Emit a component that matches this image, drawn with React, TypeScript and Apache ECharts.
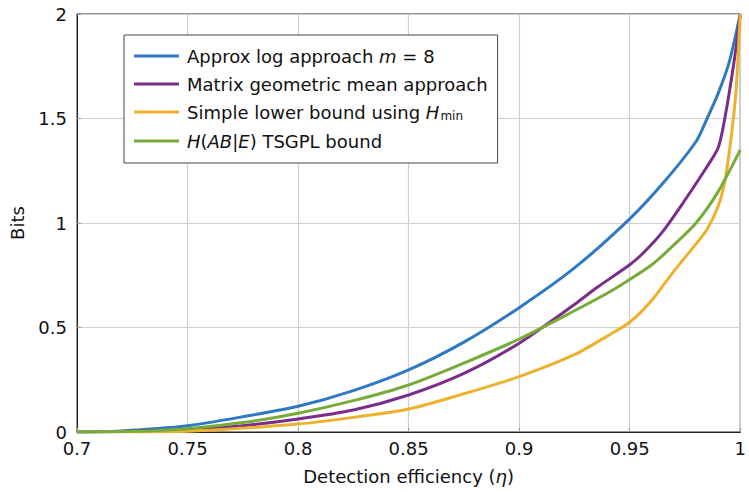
import React, { useEffect, useRef } from "react";
import * as echarts from "echarts";

const FONT = "DejaVu Sans";

const xTicks = [0.7, 0.75, 0.8, 0.85, 0.9, 0.95, 1];
const yTicks = [0, 0.5, 1, 1.5, 2];

const seriesNames = [
  "Approx log approach m = 8",
  "Matrix geometric mean approach",
  "Simple lower bound using Hmin",
  "H(AB|E) TSGPL bound",
];
const seriesColors = ["#2f78c3", "#7b2d8c", "#ecb22e", "#77ab3a"];

const etaBlue = [0.7, 0.72, 0.75, 0.775, 0.8, 0.825, 0.85, 0.875, 0.9, 0.925, 0.95, 0.965, 0.98, 0.985, 0.99, 0.995, 1.0];
const bitsBlue = [0, 0.005, 0.03, 0.073, 0.123, 0.198, 0.297, 0.43, 0.595, 0.785, 1.02, 1.19, 1.39, 1.5, 1.62, 1.77, 2.0];

const etaPurple = [0.7, 0.75, 0.775, 0.8, 0.825, 0.85, 0.875, 0.9, 0.925, 0.935, 0.95, 0.956, 0.965, 0.975, 0.985, 0.99, 0.993, 0.9973, 1.0];
const bitsPurple = [0, 0.01, 0.03, 0.062, 0.105, 0.177, 0.28, 0.425, 0.61, 0.69, 0.8, 0.855, 0.96, 1.11, 1.27, 1.36, 1.5, 1.78, 2.0];

const etaYellow = [0.7, 0.75, 0.8, 0.825, 0.85, 0.875, 0.9, 0.925, 0.94, 0.95, 0.96, 0.97, 0.98, 0.985, 0.99, 0.993, 0.996, 0.998, 0.999, 1.0];
const bitsYellow = [0, 0.004, 0.038, 0.07, 0.11, 0.183, 0.265, 0.37, 0.46, 0.525, 0.63, 0.77, 0.9, 0.97, 1.08, 1.2, 1.42, 1.62, 1.8, 2.0];

const etaGreen = [0.7, 0.725, 0.75, 0.775, 0.8, 0.825, 0.85, 0.875, 0.9, 0.925, 0.94, 0.95, 0.96, 0.97, 0.98, 0.99, 1.0];
const bitsGreen = [0, 0.003, 0.016, 0.045, 0.09, 0.15, 0.225, 0.33, 0.445, 0.58, 0.665, 0.73, 0.8, 0.895, 1.0, 1.15, 1.35];

const allEta = [etaBlue, etaPurple, etaYellow, etaGreen];
const allBits = [bitsBlue, bitsPurple, bitsYellow, bitsGreen];

const legendRich: Record<string, string> = {
  [seriesNames[0]]: "{n|Approx log approach }{i|m}{n| = 8}",
  [seriesNames[1]]: "{n|Matrix geometric mean approach}",
  [seriesNames[2]]: "{n|Simple lower bound using }{i|H}{s|min}",
  [seriesNames[3]]: "{i|H}{n|(}{i|AB}{n||}{i|E}{n|) TSGPL bound}",
};

export default function App() {
  const ref = useRef<HTMLDivElement>(null);
  useEffect(() => {
    if (!ref.current) return;
    const chart = echarts.init(ref.current, null, { renderer: "svg" });
    const series = seriesNames.map((name, k) => ({
      name,
      type: "line",
      data: allEta[k].map((x, i) => [x, allBits[k][i]]),
      showSymbol: false,
      smooth: 0.25,
      lineStyle: { color: seriesColors[k], width: 3 },
      itemStyle: { color: seriesColors[k] },
      z: 2 + k,
    }));
    chart.setOption({
      animation: false,
      backgroundColor: "#ffffff",
      grid: {
        left: 76,
        right: 6,
        top: 14,
        bottom: 60,
        show: true,
        borderColor: "#222",
        borderWidth: 1,
      },
      legend: {
        show: true,
        orient: "vertical",
        left: 124,
        top: 35,
        padding: [12, 10, 13, 10],
        itemGap: 10,
        itemWidth: 45,
        itemHeight: 3,
        icon: "rect",
        backgroundColor: "#fff",
        borderColor: "#444",
        borderWidth: 1,
        data: seriesNames,
        formatter: (name: string) => legendRich[name],
        textStyle: {
          fontFamily: FONT,
          fontSize: 18,
          color: "#111",
          padding: [0, 0, 0, 3],
          rich: {
            n: { fontFamily: FONT, fontSize: 18, color: "#111" },
            i: { fontFamily: FONT, fontSize: 18, fontStyle: "italic", color: "#111" },
            s: { fontFamily: FONT, fontSize: 12, color: "#111", padding: [8, 0, 0, 1] },
          },
        },
      },
      xAxis: {
        type: "value",
        min: 0.7,
        max: 1,
        interval: 0.05,
        name: "{n|Detection efficiency (}{i|η}{n|)}",
        nameLocation: "middle",
        nameGap: 35,
        nameTextStyle: {
          rich: {
            n: { fontFamily: FONT, fontSize: 18, color: "#111" },
            i: { fontFamily: FONT, fontSize: 18, fontStyle: "italic", color: "#111" },
          },
        },
        axisLine: { show: true, lineStyle: { color: "#222", width: 1 } },
        axisTick: { show: true, inside: true, length: 4, lineStyle: { color: "#999" } },
        axisLabel: {
          fontFamily: FONT,
          fontSize: 18,
          color: "#111",
          margin: 7,
          formatter: (v: number) => String(xTicks.find((t) => Math.abs(t - v) < 1e-6) ?? v),
        },
        splitLine: { show: true, lineStyle: { color: "#cfcfcf", width: 1.2 } },
      },
      yAxis: {
        type: "value",
        min: 0,
        max: 2,
        interval: 0.5,
        name: "Bits",
        nameLocation: "middle",
        nameGap: 51,
        nameTextStyle: { fontFamily: FONT, fontSize: 18, color: "#111" },
        axisLine: { show: true, lineStyle: { color: "#222", width: 1 } },
        axisTick: { show: true, inside: true, length: 4, lineStyle: { color: "#999" } },
        axisLabel: {
          fontFamily: FONT,
          fontSize: 18,
          color: "#111",
          margin: 10,
          formatter: (v: number) => String(yTicks.find((t) => Math.abs(t - v) < 1e-6) ?? v),
        },
        splitLine: { show: true, lineStyle: { color: "#cfcfcf", width: 1.2 } },
      },
      series,
    });
    return () => chart.dispose();
  }, []);
  return (
    <div
      ref={ref}
      style={{ position: "fixed", left: 0, top: 0, width: 749, height: 492, background: "#fff" }}
    />
  );
}
